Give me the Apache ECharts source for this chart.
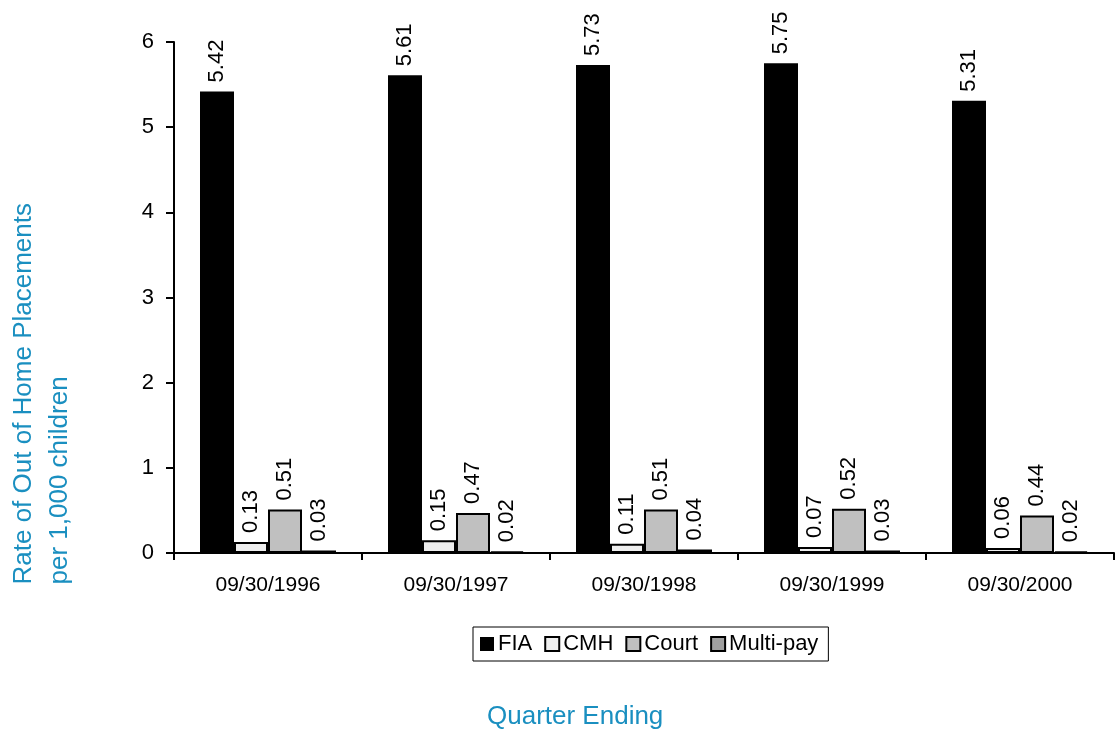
<!DOCTYPE html>
<html><head><meta charset="utf-8">
<script src="https://cdn.jsdelivr.net/npm/echarts@6/dist/echarts.min.js"></script>
<style>html,body{margin:0;padding:0;background:#fff}#c{width:1119px;height:734px}</style>
</head><body><div id="c"></div>
<script>
const categories = ['09/30/1996','09/30/1997','09/30/1998','09/30/1999','09/30/2000'];
const fia = [5.42, 5.61, 5.73, 5.75, 5.31];
const cmh = [0.13, 0.15, 0.11, 0.07, 0.06];
const court = [0.51, 0.47, 0.51, 0.52, 0.44];
const multiPay = [0.03, 0.02, 0.04, 0.03, 0.02];
const seriesNames = ['FIA','CMH','Court','Multi-pay'];
const colors = ['#000000','#eeeeee','#c0c0c0','#a0a0a0'];
const values = [fia, cmh, court, multiPay];
const FONT = 'Liberation Sans, Arial, sans-serif';

const chart = echarts.init(document.getElementById('c'));
chart.setOption({
  animation: false,
  grid: {left: 174, right: 5, top: 42, bottom: 181},
  legend: {
    left: 473, top: 627,
    data: seriesNames,
    itemWidth: 14, itemHeight: 14, itemGap: 12,
    borderColor: '#000', borderWidth: 1,
    padding: [6, 10, 6, 7],
    icon: 'rect',
    textStyle: {fontFamily: FONT, fontSize: 22, color: '#000', padding: [0,0,0,-1]}
  },
  xAxis: {
    type: 'category', data: categories,
    axisLine: {lineStyle: {color: '#000', width: 2}},
    axisTick: {show: true, length: 7, lineStyle: {color: '#000', width: 2}},
    axisLabel: {fontFamily: FONT, fontSize: 21, color: '#000', margin: 22}
  },
  yAxis: {
    type: 'value', min: 0, max: 6, interval: 1,
    axisLine: {show: true, lineStyle: {color: '#000', width: 2}},
    axisTick: {show: true, length: 8, lineStyle: {color: '#000', width: 2}},
    splitLine: {show: false},
    axisLabel: {fontFamily: FONT, fontSize: 22, color: '#000', margin: 20}
  },
  graphic: [
    {type: 'text', left: 6, top: 203, rotation: Math.PI/2,
     style: {text: 'Rate of Out of Home Placements\nper 1,000 children', fill: '#1a8fc0',
       font: '26px ' + FONT, lineHeight: 36, align: 'left'}},
    {type: 'text', left: 487, top: 704,
     style: {text: 'Quarter Ending', fill: '#1a8fc0', font: '26px ' + FONT}}
  ],
  series: seriesNames.map((n, i) => ({
    name: n, type: 'bar', data: values[i],
    barWidth: 34, barGap: '0%',
    itemStyle: {color: colors[i], borderColor: '#000', borderWidth: i === 0 ? 0 : 2},
    label: {show: true, position: 'top', rotate: 90, align: 'left', verticalAlign: 'middle',
      distance: 9, fontFamily: FONT, fontSize: 22, color: '#000'}
  }))
});
</script></body></html>
